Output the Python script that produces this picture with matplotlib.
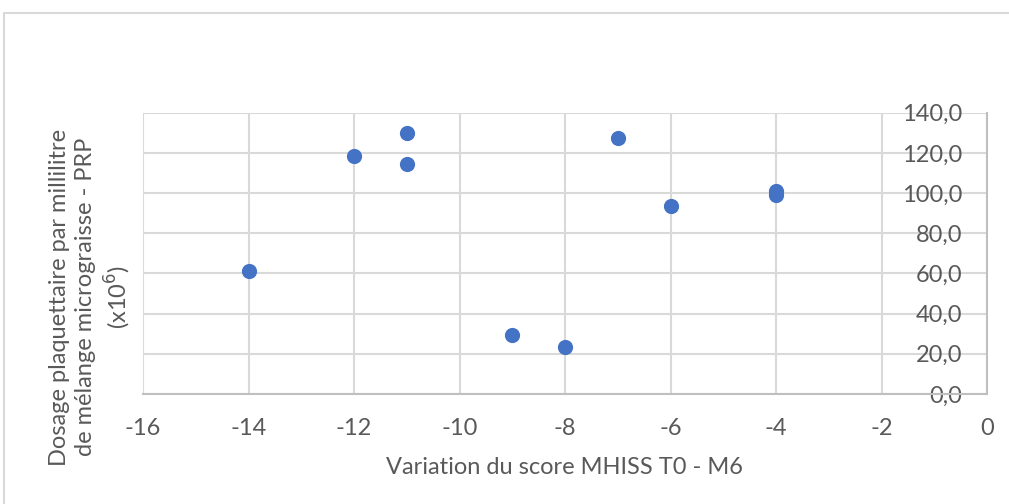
import matplotlib.pyplot as plt
from matplotlib.patches import Rectangle

# values
variation = [-14, -12, -11, -11, -9, -8, -7, -6, -4, -4]
dosage = [61.0, 118.5, 130.0, 114.5, 29.5, 23.5, 127.3, 93.7, 100.9, 98.9]

x_ticks = [-16, -14, -12, -10, -8, -6, -4, -2, 0]
y_ticks = [0, 20, 40, 60, 80, 100, 120, 140]

plt.rcParams['font.family'] = ['Lato', 'DejaVu Sans']

W, H = 1009, 504
fig = plt.figure(figsize=(W / 100, H / 100), dpi=100)

# chart frame (cropped on the right and bottom)
fig.patches.append(Rectangle((4 / W, -0.1), 1.2, 1 - 13 / H + 0.1,
                             transform=fig.transFigure, fill=False,
                             edgecolor='#D9D9D9', linewidth=1.5))

ax = fig.add_axes([143 / W, (H - 394) / H, (987 - 143) / W, (394 - 112.7) / H])
ax.scatter(variation, dosage, s=120, color='#4472C4', zorder=3, linewidths=0)

ax.set_xlim(-16, 0)
ax.set_ylim(0, 140)
ax.set_xticks(x_ticks)
ax.set_yticks(y_ticks)
ax.set_xticklabels([str(v) for v in x_ticks])
ax.set_yticklabels([f"{v:.1f}".replace('.', ',') for v in y_ticks])

ax.grid(True, color='#D9D9D9', linewidth=1.5, zorder=0)
ax.set_axisbelow(True)

for side in ['top', 'left']:
    ax.spines[side].set_visible(False)
for side in ['bottom', 'right']:
    ax.spines[side].set_color('#BFBFBF')
    ax.spines[side].set_linewidth(1.5)

ax.yaxis.tick_right()
ax.tick_params(axis='y', length=0, pad=-18, labelsize=17, labelcolor='#595959')
plt.setp(ax.get_yticklabels(), ha='right')
ax.tick_params(axis='x', length=0, pad=17, labelsize=17, labelcolor='#595959')

ax.set_xlabel('Variation du score MHISS T0 - M6', fontsize=17, color='#595959', labelpad=13)

fig.text(91 / W, (H - 297) / H,
         'Dosage plaquettaire par millilitre\nde mélange micrograisse - PRP\n(x10$^{6}$)',
         rotation=90, ha='center', va='center', multialignment='center',
         fontsize=17, color='#595959', linespacing=1.3)

fig.savefig('out.png', dpi=100)
